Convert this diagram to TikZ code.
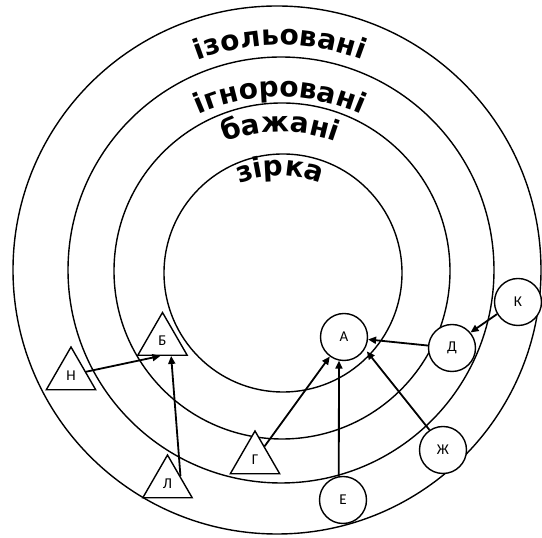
\documentclass[tikz,border=0pt]{standalone}
\usepackage{fontspec}
\newfontfamily\ringfont{DejaVu Sans}
\newfontfamily\tagfont{Carlito}
\newcommand{\ringtext}{\ringfont\bfseries\fontsize{28}{30}\selectfont}
\usetikzlibrary{shapes.geometric,arrows.meta,decorations.text}
\begin{document}
\begin{tikzpicture}[x=1pt,y=1pt,>={Triangle[length=8pt,width=7pt]},
  ring/.style={line width=1.4pt},
  person/.style={draw,circle,line width=1.4pt,fill=white,minimum size=47pt,inner sep=0pt,font=\tagfont\fontsize{15}{15}\selectfont},
  loner/.style={draw,regular polygon,regular polygon sides=3,line width=1.4pt,fill=white,minimum size=57pt,inner sep=0pt,font=\tagfont\fontsize{15}{15}\selectfont},
  link/.style={->,line width=1.8pt},
  arcword/.style={decorate,decoration={text along path,text align=center,text={|\ringtext|#1}}}]
 \useasboundingbox (0,0) rectangle (542,538);
 \draw[ring] (277,268) circle (264pt); \draw[ring] (281,268) circle (213pt);
 \draw[ring] (282,267) circle (168pt); \draw[ring] (283,265) circle (119pt);
 \path[arcword=ізольовані] (280,263) ++(130:230pt) arc (130:50:230pt);
 \path[arcword=ігноровані] (280,241) ++(130:200pt) arc (130:50:200pt);
 \path[arcword=бажані] (280,246) ++(130:160pt) arc (130:50:160pt);
 \path[arcword=зірка] (280,252) ++(135:110pt) arc (135:45:110pt);
 \node[person] (a) at (344,201) {А}; \node[person] (e) at (343,38) {Е};
 \node[person] (d) at (452,190) {Д}; \node[person] (zh) at (443,88) {Ж};
 \node[person] (k) at (518,236) {К};
 \node[loner] (b) at (162.5,197) {Б}; \node[loner] (n) at (71,162.5) {Н};
 \node[loner] (l) at (167.5,54.5) {Л}; \node[loner] (g) at (255,78.5) {Г};
 \draw[link] (n.14) -- (b.-98); \draw[link] (l.30) -- (b.-60);
 \draw[link] (g) -- (a); \draw[link] (e.100) -- (a.258);
 \draw[link] (d) -- (a); \draw[link,shorten >=3pt] (zh.124) -- (a.-30);
 \draw[link] (k.210) -- (d.40);
\end{tikzpicture}
\end{document}
